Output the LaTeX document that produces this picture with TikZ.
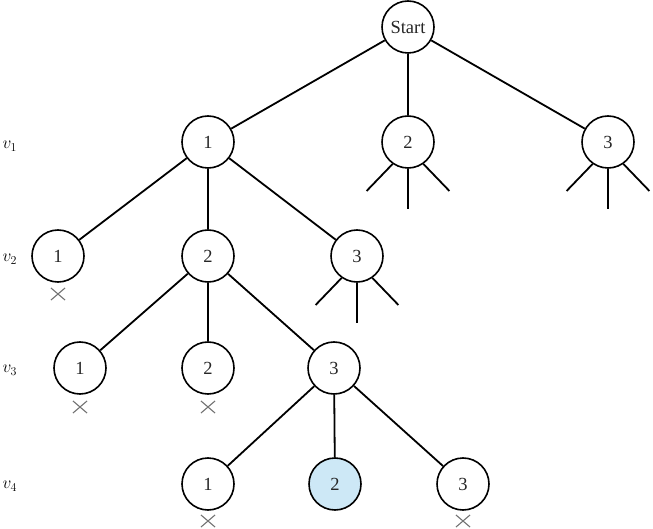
\documentclass[tikz,border=0pt]{standalone}
\usepackage{fontspec}
\setmainfont{Liberation Serif}
\usetikzlibrary{shapes.misc}
\definecolor{hiblue}{HTML}{CDE8F6}
\begin{document}
\begin{tikzpicture}[x=1pt,y=-1pt,
  st/.style={circle,draw=black,line width=1.6pt,minimum size=52pt,inner sep=0pt,
    font=\fontsize{18.5}{20}\selectfont,text=black!85},
  ed/.style={line width=1.8pt},
  lab/.style={font=\fontsize{18}{20}\selectfont,anchor=west},
  xm/.style={cross out,draw=black!55,line width=1.1pt,minimum width=13pt,minimum height=11pt,inner sep=0pt}]
\useasboundingbox (0,0) rectangle (653,529);
% nodes
\node[st] (S) at (408,27) {Start};
\node[st] (A1) at (208,142) {1};
\node[st] (A2) at (408,142) {2};
\node[st] (A3) at (608,142) {3};
\node[st] (B1) at (58,256) {1};
\node[st] (B2) at (208,256) {2};
\node[st] (B3) at (357,256) {3};
\node[st] (C1) at (80,368) {1};
\node[st] (C2) at (208,368) {2};
\node[st] (C3) at (334,368) {3};
\node[st] (D1) at (208,484) {1};
\node[st,fill=hiblue] (D2) at (335,484) {2};
\node[st] (D3) at (463,484) {3};
% level labels
\node[lab] (L1) at (-1,146) {$v_1$};
\node[lab] (L2) at (-1,259) {$v_2$};
\node[lab] (L3) at (-1,370) {$v_3$};
\node[lab] (L4) at (-1,486) {$v_4$};
% crosses
\node[xm] (X1) at (58,294) {};
\node[xm] (X2) at (80,407) {};
\node[xm] (X3) at (208,407) {};
\node[xm] (X4) at (208,521) {};
\node[xm] (X5) at (463,521) {};
% edges
\draw[ed] (S) -- (A1);
\draw[ed] (S) -- (A2);
\draw[ed] (S) -- (A3);
\draw[ed] (A1) -- (B1);
\draw[ed] (A1) -- (B2);
\draw[ed] (A1) -- (B3);
\draw[ed] (B2) -- (C1);
\draw[ed] (B2) -- (C2);
\draw[ed] (B2) -- (C3);
\draw[ed] (C3) -- (D1);
\draw[ed] (C3) -- (D2);
\draw[ed] (C3) -- (D3);
% stubs
\foreach \n in {A2,A3,B3}{
  \draw[ed] (\n.235) -- ++(-26,27);
  \draw[ed] (\n.south) -- ++(0,40);
  \draw[ed] (\n.305) -- ++(26,27);
}
\end{tikzpicture}
\end{document}
